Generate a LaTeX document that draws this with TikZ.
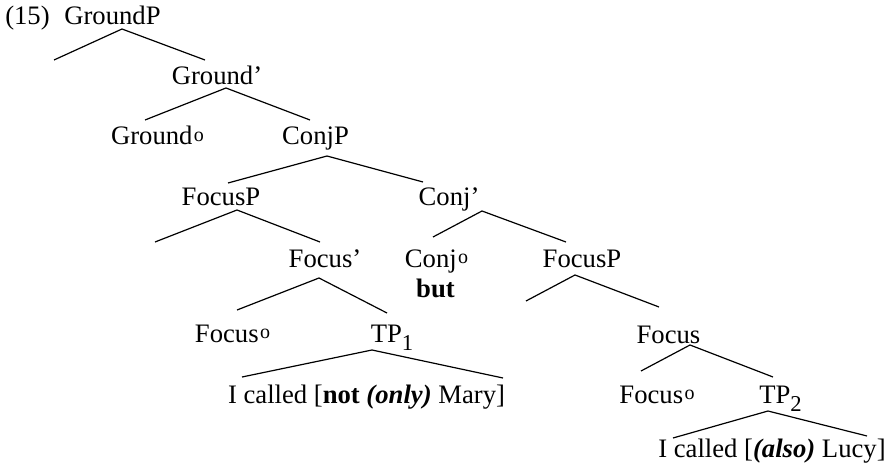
\documentclass[tikz,border=0pt]{standalone}
\usepackage{fontspec}
\setmainfont{Liberation Serif}
% small raised o on head labels
\newcommand{\supo}{\kern1pt\raisebox{2.5pt}{\fontsize{15}{15}\selectfont o}}

\begin{document}
\begin{tikzpicture}[
  x=0.75pt, y=-0.75pt,
  font=\fontsize{20}{24}\selectfont,
  lbl/.style={anchor=base, inner sep=0pt},
  br/.style={line width=0.9pt},
]
\useasboundingbox (0,0) rectangle (892,474);

% labels
\node[lbl] (ex)  at (27.5,25)  {(15)};
\node[lbl] (gp)  at (112.5,25) {GroundP};
\node[lbl] (gb)  at (217,85)   {Ground’};
\node[lbl] (g0)  at (157.5,145) {Ground\supo};
\node[lbl] (cp)  at (315.5,145) {ConjP};
\node[lbl] (fp)  at (221,205)  {FocusP};
\node[lbl] (cb)  at (449,205)  {Conj’};
\node[lbl] (fb)  at (325,267)  {Focus’};
\node[lbl] (c0)  at (436.5,267) {Conj\supo};
\node[lbl] (but) at (435.5,297) {\textbf{but}};
\node[lbl] (fp2) at (582,267)  {FocusP};
\node[lbl] (f0)  at (232.5,342) {Focus\supo};
\node[lbl] (tp1) at (392,342)  {TP\raisebox{-6pt}{\fontsize{17}{17}\selectfont 1}};
\node[lbl] (ip1) at (366.5,403) {I called [\textbf{not} \textbf{\textit{(only)}} Mary]};
\node[lbl] (fb2) at (668.5,343) {Focus};
\node[lbl] (f02) at (657,403)  {Focus\supo};
\node[lbl] (tp2) at (780.5,403) {TP\raisebox{-6pt}{\fontsize{17}{17}\selectfont 2}};
\node[lbl] (ip2) at (772,457)  {I called [\textbf{\textit{(also)}} Lucy]};

% empty specifier branches
\coordinate (gp-l)  at (54,60);
\coordinate (fp-l)  at (155,242);
\coordinate (fp2-l) at (526,301);

% branches
\draw[br] (gp-l) -- ([shift={(9.5,4)}]gp.base) -- ([shift={(-12,-25)}]gb.base);
\draw[br] ([shift={(-12.5,-25)}]g0.base) -- ([shift={(9,3)}]gb.base) -- ([shift={(-5.5,-25)}]cp.base);
\draw[br] ([shift={(7,-22)}]fp.base) -- ([shift={(11.5,11)}]cp.base) -- ([shift={(-26,-23)}]cb.base);
\draw[br] (fp-l) -- ([shift={(16,5)}]fp.base) -- ([shift={(-5,-25)}]fb.base);
\draw[br] ([shift={(-3.5,-30)}]c0.base) -- ([shift={(33,6)}]cb.base) -- ([shift={(-16,-25)}]fp2.base);
\draw[br] ([shift={(4.5,-32)}]f0.base) -- ([shift={(-6,11)}]fb.base) -- ([shift={(-5,-29)}]tp1.base);
\draw[br] (fp2-l) -- ([shift={(-7,8)}]fp2.base) -- ([shift={(-9.5,-36)}]fb2.base);
\draw[br] ([shift={(-124.5,-26)}]ip1.base) -- ([shift={(-20,8)}]tp1.base) -- ([shift={(136.5,-25)}]ip1.base);
\draw[br] ([shift={(-16,-32)}]f02.base) -- ([shift={(21.5,2)}]fb2.base) -- ([shift={(-7.5,-26)}]tp2.base);
\draw[br] ([shift={(-99,-19)}]ip2.base) -- ([shift={(-12.5,8)}]tp2.base) -- ([shift={(95,-21)}]ip2.base);
\end{tikzpicture}
\end{document}
